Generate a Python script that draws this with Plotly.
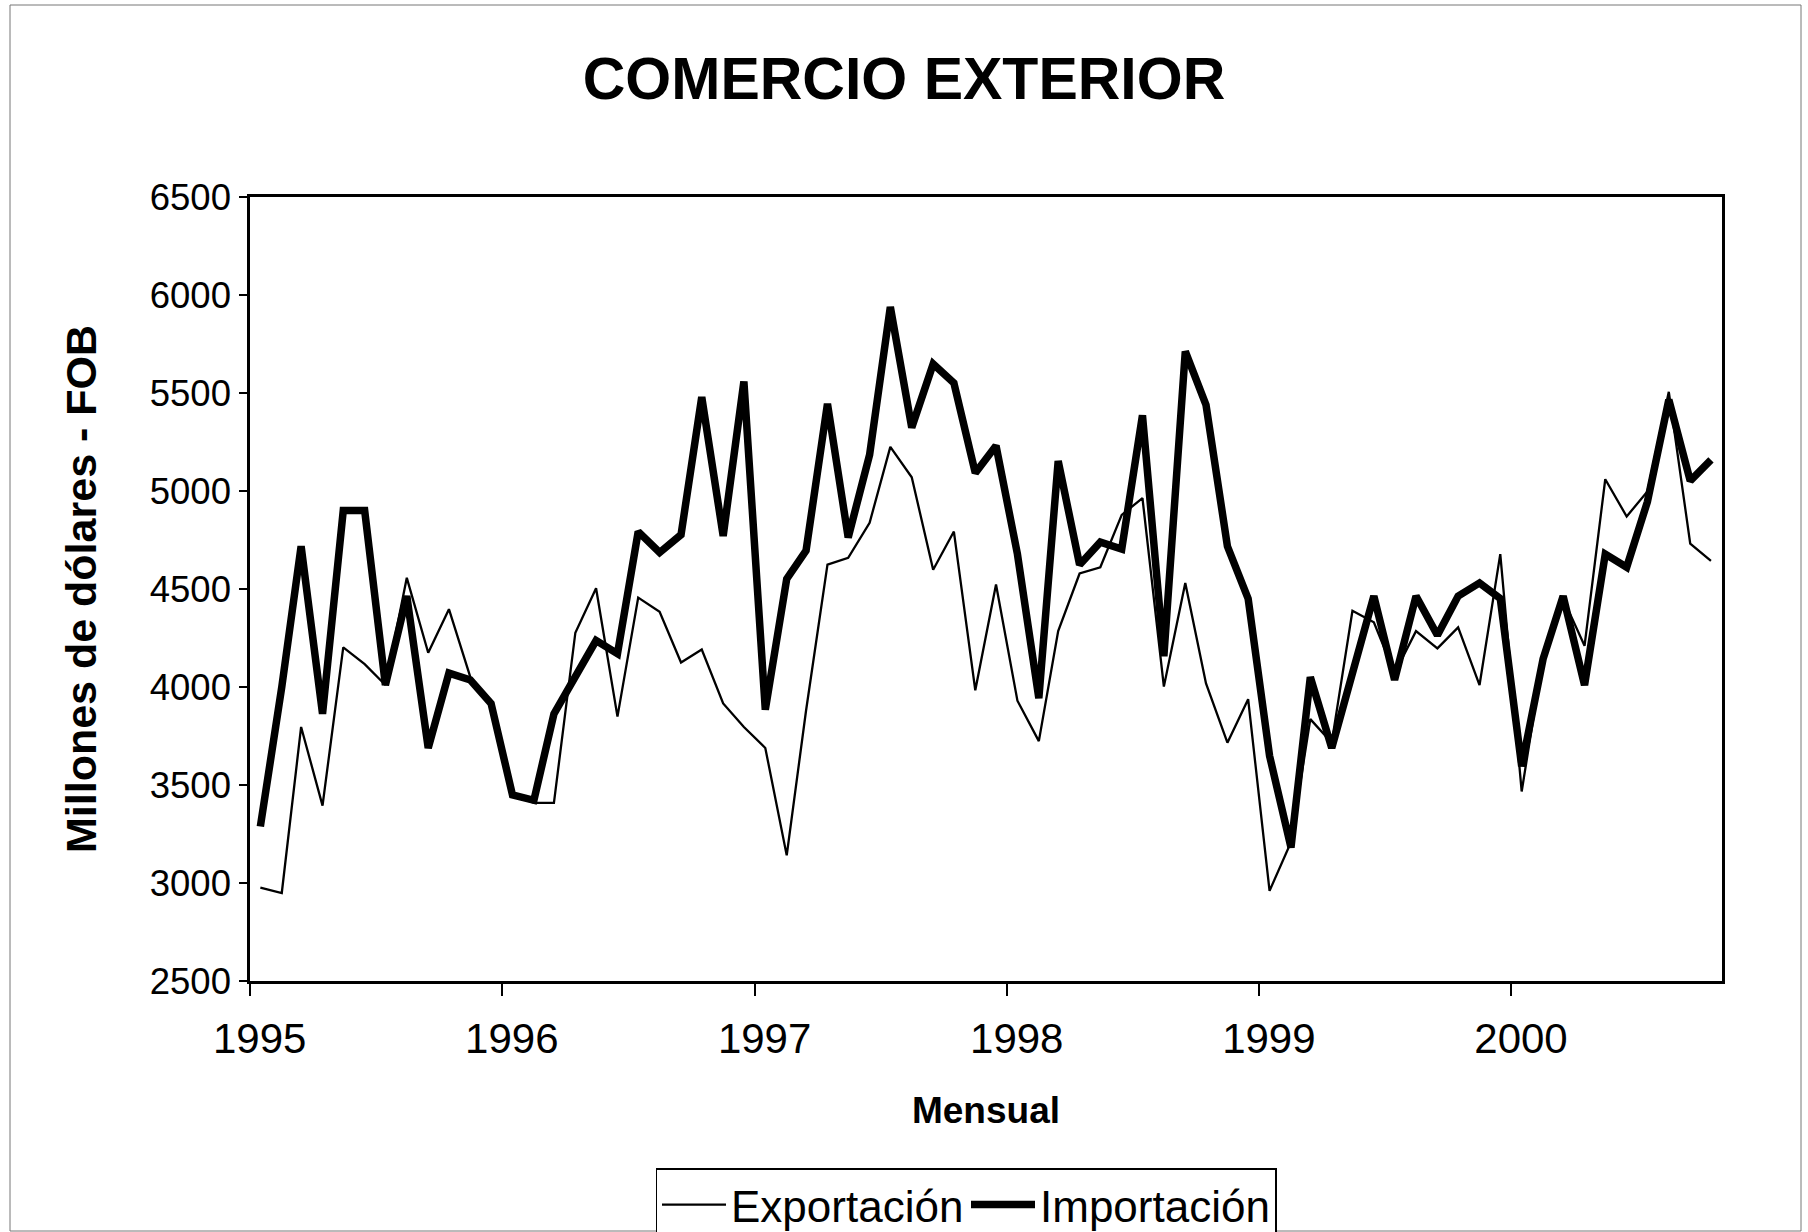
import pandas as pd
import plotly.graph_objects as go

# Monthly data, Jan 1995 - Oct 2000 (millions USD, FOB)
months = pd.date_range("1995-01-01", periods=70, freq="MS") + pd.Timedelta(days=15)

exportacion = [2976, 2949, 3796, 3395, 4202, 4117, 4010, 4557, 4175, 4397, 4050, 3916,
               3449, 3409, 3409, 4277, 4504, 3849, 4456, 4384, 4125, 4191, 3916, 3796,
               3689, 3141, 3880, 4624, 4659, 4838, 5225, 5070, 4598, 4793, 3983, 4523,
               3930, 3724, 4285, 4579, 4611, 4878, 4964, 4002, 4531, 4018, 3716, 3938,
               2960, 3208, 3836, 3716, 4389, 4330, 4070, 4285, 4197, 4304, 4010, 4678,
               3467, 4150, 4451, 4210, 5060, 4870, 4998, 5506, 4731, 4643]

importacion = [3288, 4000, 4718, 3863, 4900, 4900, 4010, 4464, 3689, 4071, 4036, 3916,
               3449, 3422, 3863, 4063, 4237, 4170, 4793, 4686, 4777, 5479, 4771, 5559,
               3884, 4552, 4696, 5445, 4763, 5185, 5939, 5324, 5648, 5551, 5092, 5231,
               4678, 3943, 5153, 4624, 4739, 4704, 5386, 4157, 5712, 5439, 4718, 4451,
               3649, 3181, 4050, 3689, 4080, 4464, 4036, 4464, 4264, 4464, 4531, 4451,
               3596, 4143, 4464, 4010, 4678, 4611, 4945, 5466, 5052, 5159]

year_ticks = ["1995-01-01", "1996-01-01", "1997-01-01", "1998-01-01", "1999-01-01", "2000-01-01"]
# labels in the original sit slightly right of their tick marks
year_label_pos = ["1995-01-15", "1996-01-15", "1997-01-15", "1998-01-15", "1999-01-15", "2000-01-15"]
year_labels = ["1995", "1996", "1997", "1998", "1999", "2000"]
y_ticks = [2500, 3000, 3500, 4000, 4500, 5000, 5500, 6000, 6500]

FONT = "Liberation Sans, Arial, sans-serif"

fig = go.Figure()
fig.add_trace(go.Scatter(x=months, y=exportacion, mode="lines", name="Exportación",
                         line=dict(color="black", width=2.3)))
fig.add_trace(go.Scatter(x=months, y=importacion, mode="lines", name="Importación",
                         line=dict(color="black", width=7.5)))

W, H = 1808, 1232
L, R, T, B = 250, 86, 197, 251
pw, ph = W - L - R, H - T - B

fig.update_layout(
    width=W, height=H,
    margin=dict(l=L, r=R, t=T, b=B, autoexpand=False),
    paper_bgcolor="white", plot_bgcolor="white",
    font=dict(family=FONT, color="black", size=40),
    title=dict(text="<b>COMERCIO EXTERIOR</b>", x=0.5, xref="container",
               xanchor="center", y=1 - 78 / H, yanchor="middle",
               font=dict(size=59, family=FONT, color="black")),
    showlegend=True,
    legend=dict(orientation="h", x=(966 - L) / pw, xanchor="center",
                y=-(1168 - (T + ph)) / ph, yanchor="top",
                bordercolor="black", borderwidth=1.5, bgcolor="white",
                font=dict(size=44, family=FONT, color="black"),
                itemwidth=64, entrywidth=230, entrywidthmode="pixels",
                tracegroupgap=0),
    xaxis=dict(type="date", range=["1995-01-01", "2000-11-01"],
               tickvals=year_label_pos, ticktext=year_labels,
               ticks="outside", ticklen=12, tickwidth=2, tickcolor="rgba(0,0,0,0)",
               minor=dict(tickvals=year_ticks, ticks="outside", ticklen=12,
                          tickwidth=2, tickcolor="black", showgrid=False),
               ticklabelstandoff=7,
               showline=True, linecolor="black", linewidth=2.5, mirror=True,
               showgrid=False, zeroline=False,
               tickfont=dict(size=42, family=FONT),
               title=dict(text="<b>Mensual</b>", standoff=36,
                          font=dict(size=37, family=FONT))),
    yaxis=dict(range=[2500, 6500], tickvals=y_ticks,
               ticks="outside", ticklen=8, tickwidth=2, tickcolor="black",
               ticklabelstandoff=1,
               showline=True, linecolor="black", linewidth=2.5, mirror=True,
               showgrid=False, zeroline=False,
               tickfont=dict(size=36.5, family=FONT),
               title=dict(text="<b>Millones de dólares - FOB</b>", standoff=40,
                          font=dict(size=43, family=FONT))),
)

# thin outer border of the chart area
fig.add_shape(type="rect", xref="paper", yref="paper",
              x0=(10 - L) / pw, x1=(1801 - L) / pw,
              y0=-(1231 - (T + ph)) / ph, y1=1 + (T - 5) / ph,
              line=dict(color="#777777", width=1), layer="below")

fig.write_html("out.html", config={"displayModeBar": False},
               post_script="document.body.style.margin='0';document.body.style.overflow='hidden';")
